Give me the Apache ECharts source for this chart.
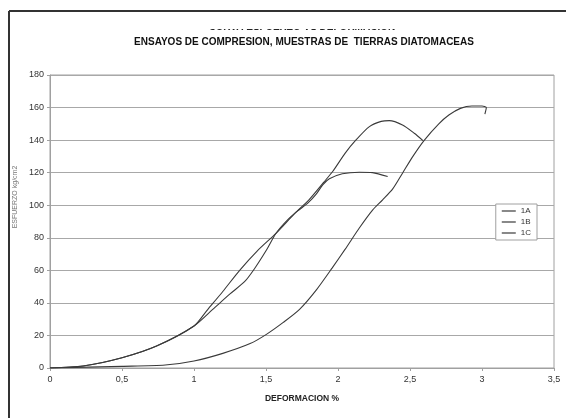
<!DOCTYPE html>
<html>
<head>
<meta charset="utf-8">
<script src="https://cdn.jsdelivr.net/npm/echarts@6/dist/echarts.min.js"></script>
<style>html,body{margin:0;padding:0;background:#fff}#c{width:566px;height:418px}</style>
</head>
<body>
<div id="c"></div>
<script>
var titleTop = "CURVA ESFUERZO VS DEFORMACION";
var titleMain = "ENSAYOS DE COMPRESION, MUESTRAS DE  TIERRAS DIATOMACEAS";
var xName = "DEFORMACION %";
var yName = "ESFUERZO kg/cm2";
var seriesNames = ["1A", "1B", "1C"];

var data1A = [[0,0],[0.23,1.2],[0.5,6.3],[0.74,13.5],[1.0,25.8],[1.13,36],[1.25,45.5],[1.351,53],[1.42,61],[1.5,72],[1.571,82.9],[1.65,91],[1.72,96.5],[1.79,101.3],[1.85,107],[1.894,112.5],[1.94,116.2],[2.03,119.3],[2.148,120.3],[2.24,120],[2.345,117.6]];
var data1B = [[0,0],[0.23,1.2],[0.5,6.3],[0.74,13.5],[1.0,25.8],[1.095,35.9],[1.2,47],[1.317,60],[1.44,72],[1.571,82.9],[1.7,95],[1.80,103.5],[1.9,114],[1.963,120.7],[2.05,132],[2.125,140.1],[2.218,148.3],[2.3,151.5],[2.356,152],[2.448,149.3],[2.53,144.2],[2.59,139.7]];
var data1C = [[0,0],[0.5,1],[0.8,1.8],[1.0,4.3],[1.2,9],[1.39,15],[1.5,20.5],[1.62,28],[1.733,36],[1.85,48],[1.96,61.5],[2.05,73],[2.148,86],[2.24,97],[2.31,103.3],[2.38,110],[2.45,120],[2.52,130],[2.6,140],[2.7,150],[2.77,155.4],[2.85,159.5],[2.93,161],[3.0,161],[3.03,160],[3.02,156]];

var chart = echarts.init(document.getElementById('c'), null, {renderer: 'canvas'});
var font = 'Liberation Sans, Arial, sans-serif';
function mk(name, d) {
  return {
    name: name, type: 'line', data: d, symbol: 'none', smooth: 0.25,
    lineStyle: {color: '#3a3a3a', width: 1.1}, itemStyle: {color: '#3a3a3a'}
  };
}
chart.setOption({
  animation: false,
  backgroundColor: '#fff',
  grid: {left: 50, right: 12, top: 75, bottom: 50, show: true, borderColor: '#a0a0a0', borderWidth: 1},
  xAxis: {
    type: 'value', min: 0, max: 3.5, interval: 0.5,
    axisLine: {lineStyle: {color: '#a0a0a0'}},
    axisTick: {show: true, length: 3, lineStyle: {color: '#a0a0a0'}},
    splitLine: {show: false},
    axisLabel: {fontFamily: font, fontSize: 9, color: '#333', margin: 7,
      formatter: function (v) { return String(v).replace('.', ','); }},
    name: xName, nameLocation: 'middle', nameGap: 26,
    nameTextStyle: {fontFamily: font, fontSize: 8.5, fontWeight: 'bold', color: '#222'}
  },
  yAxis: {
    type: 'value', min: 0, max: 180, interval: 20,
    axisLine: {show: true, lineStyle: {color: '#a0a0a0'}},
    axisTick: {show: true, length: 3, lineStyle: {color: '#a0a0a0'}},
    splitLine: {show: true, lineStyle: {color: '#a8a8a8', width: 1}},
    axisLabel: {fontFamily: font, fontSize: 9, color: '#333', margin: 6}
  },
  legend: {
    data: seriesNames, orient: 'vertical', right: 29, top: 204,
    icon: 'rect', itemWidth: 14, itemHeight: 1.2, itemGap: 3, padding: [3, 6, 3, 6],
    borderColor: '#a0a0a0', borderWidth: 1, backgroundColor: '#fff',
    textStyle: {fontFamily: font, fontSize: 8, color: '#333'}
  },
  graphic: [
    {type: 'text', x: 302, y: 22, z: 10,
      style: {text: titleTop, font: 'bold 10px ' + font, fill: '#222', align: 'center'}},
    {type: 'rect', shape: {x: 100, y: 13, width: 400, height: 16}, z: 20,
      style: {fill: '#fff'}},
    {type: 'text', x: 304, y: 37, z: 10,
      style: {text: titleMain, font: 'bold 10px ' + font, fill: '#111', align: 'center'}},
    {type: 'text', x: 15, y: 197, rotation: Math.PI / 2, z: 10,
      style: {text: yName, font: '7px ' + font, fill: '#777', align: 'center', verticalAlign: 'middle'}},
    {type: 'line', shape: {x1: 9, y1: 11, x2: 566, y2: 11}, z: 30,
      style: {stroke: '#333', lineWidth: 2}},
    {type: 'line', shape: {x1: 9, y1: 11, x2: 9, y2: 418}, z: 30,
      style: {stroke: '#333', lineWidth: 2}}
  ],
  series: [mk(seriesNames[0], data1A), mk(seriesNames[1], data1B), mk(seriesNames[2], data1C)]
});
</script>
</body>
</html>
